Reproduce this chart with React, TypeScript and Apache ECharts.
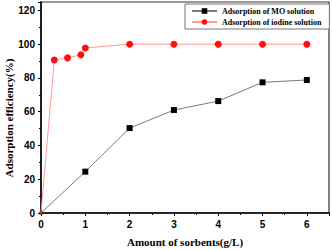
import React, { useEffect, useRef } from "react";
import * as echarts from "echarts";

const moX = [0, 1, 2, 3, 4, 5, 6];
const moY = [0, 24.5, 50.3, 61, 66.3, 77.4, 78.8];
const iodX = [0, 0.3, 0.6, 0.9, 1, 2, 3, 4, 5, 6];
const iodY = [0, 90.6, 91.9, 93.7, 97.8, 100, 100, 100, 100, 100];
const xTitle = "Amount of sorbents(g/L)";
const yTitle = "Adsorption efficiency(%)";
const moName = "Adsorption of MO solution";
const iodName = "Adsorption of iodine solution";

export default function App() {
  const ref = useRef<HTMLDivElement>(null);
  useEffect(() => {
    if (!ref.current) return;
    const chart = echarts.init(ref.current, undefined, { renderer: "svg" });
    const tickFont = { color: "#000", fontWeight: "bold" as const, fontFamily: "Liberation Sans, Arial, sans-serif", fontSize: 10 };
    chart.setOption({
      animation: false,
      backgroundColor: "#fff",
      grid: { left: 41, right: 3, top: 2, bottom: 37, show: true, borderColor: "#333", borderWidth: 1.2, containLabel: false, outerBoundsMode: "none" },
      legend: {
        orient: "vertical",
        left: 185,
        top: 4,
        padding: [3, 8, 3, 6],
        itemGap: 3,
        itemWidth: 25,
        itemHeight: 7,
        borderColor: "#777",
        borderWidth: 1,
        backgroundColor: "#fff",
        textStyle: { fontFamily: "Liberation Serif, Times New Roman, serif", fontWeight: "bold", fontSize: 8, color: "#000" },
        data: [moName, iodName],
      },
      xAxis: {
        type: "value",
        min: 0,
        max: 6.5,
        interval: 1,
        name: xTitle,
        nameLocation: "middle",
        nameGap: 23,
        nameMoveOverlap: false,
        nameTextStyle: { fontFamily: "Liberation Serif, Times New Roman, serif", fontWeight: "bold", fontSize: 11, color: "#000" },
        axisLine: { show: true, lineStyle: { color: "#000", width: 1.5 } },
        axisTick: { show: true, inside: false, length: 3, lineStyle: { color: "#000", width: 1 } },
        minorTick: { show: true, splitNumber: 2, length: 2, lineStyle: { color: "#000" } },
        axisLabel: { ...tickFont, margin: 6, showMaxLabel: false },
        splitLine: { show: false },
      },
      yAxis: {
        type: "value",
        min: 0,
        max: 125,
        interval: 20,
        name: yTitle,
        nameLocation: "middle",
        nameGap: 27,
        nameMoveOverlap: false,
        nameTextStyle: { fontFamily: "Liberation Serif, Times New Roman, serif", fontWeight: "bold", fontSize: 11, color: "#000", padding: [0, 21, 0, 0] },
        axisLine: { show: true, lineStyle: { color: "#000", width: 1.5 } },
        axisTick: { show: true, inside: false, length: 3, lineStyle: { color: "#000", width: 1 } },
        minorTick: { show: true, splitNumber: 2, length: 2, lineStyle: { color: "#000" } },
        axisLabel: { ...tickFont, margin: 6, showMaxLabel: false },
        splitLine: { show: false },
      },
      series: [
        {
          name: moName,
          type: "line",
          data: moX.map((x, i) => [x, moY[i]]),
          symbol: "rect",
          symbolSize: (v: number[], p: any) => (p.dataIndex === 0 ? 3 : 6),
          lineStyle: { color: "#7a7a7a", width: 1 },
          itemStyle: { color: "#000" },
          z: 3,
        },
        {
          name: iodName,
          type: "line",
          data: iodX.map((x, i) => [x, iodY[i]]),
          symbol: "circle",
          symbolSize: (v: number[], p: any) => (p.dataIndex === 0 ? 3 : 7),
          lineStyle: { color: "#ff9a9a", width: 1 },
          itemStyle: { color: "#ff1010" },
          z: 4,
        },
      ],
    });
    return () => chart.dispose();
  }, []);
  return <div ref={ref} style={{ width: 332, height: 250, position: "fixed", left: 0, top: 0 }} />;
}
